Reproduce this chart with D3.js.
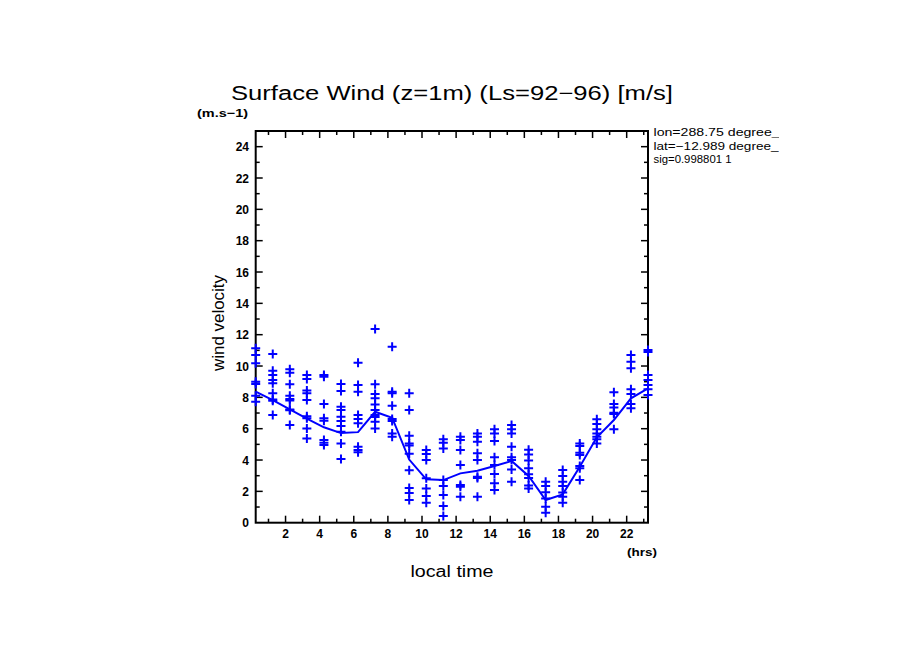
<!DOCTYPE html>
<html><head><meta charset="utf-8">
<script src="https://cdn.jsdelivr.net/npm/d3@7"></script>
<style>body{margin:0;background:#fff}svg{display:block}</style>
</head><body>
<script>
// ---- data ----
const hours = [0.25,1.25,2.25,3.25,4.25,5.25,6.25,7.25,8.25,9.25,10.25,11.25,12.25,13.25,14.25,15.25,16.25,17.25,18.25,19.25,20.25,21.25,22.25,23.25];
const meanWind = [8.36,7.83,7.24,6.64,6.09,5.72,5.78,7.08,6.70,4.03,2.77,2.72,3.15,3.32,3.62,3.94,2.98,1.45,1.81,3.57,5.45,6.55,7.94,8.58];
const samples = [
  [11.13,10.7,10.17,9.0,8.85,8.1,7.72],
  [10.77,9.7,9.43,9.1,8.9,8.26,7.87,7.79,6.87],
  [9.79,9.57,8.83,8.1,7.9,7.8,7.23,7.18,6.23],
  [9.43,9.17,8.43,8.26,7.83,6.8,6.66,6.02,5.38],
  [9.43,9.32,7.57,6.66,6.51,5.28,5.1,4.96],
  [8.85,8.4,7.4,7.19,6.77,6.49,6.17,5.81,5.06,4.06],
  [10.21,8.79,8.36,6.87,6.62,6.34,4.85,4.64,4.49],
  [12.36,8.83,8.21,7.94,7.55,7.19,6.87,6.75,6.45,6.02],
  [11.23,8.36,8.26,7.47,6.62,6.49,5.70,5.49],
  [8.26,7.19,5.55,5.06,4.93,4.4,3.34,2.21,1.9,1.45],
  [4.64,4.38,4.0,2.83,2.19,1.70,1.28],
  [5.32,5.11,4.74,2.72,2.34,1.77,1.06,0.43],
  [5.49,5.28,4.64,3.68,2.40,2.30,1.66],
  [5.70,5.49,5.17,4.43,4.0,2.94,2.85,1.66],
  [5.96,5.70,5.21,4.17,3.68,3.11,2.51,2.09],
  [6.23,5.96,5.70,4.85,4.17,4.0,3.40,2.62],
  [4.65,4.35,3.97,3.47,3.1,2.85,2.38,2.19],
  [2.62,2.34,1.94,1.55,1.02,0.64],
  [3.36,2.98,2.62,2.34,1.92,1.66,1.28],
  [5.06,4.89,4.47,4.32,3.62,3.47,2.72],
  [6.60,6.30,5.96,5.70,5.49,5.32,5.06],
  [8.32,7.57,7.36,7.02,6.94,5.96],
  [10.70,10.28,9.85,8.51,8.21,7.57,7.30],
  [11.02,10.9,9.43,9.1,8.79,8.51,8.15]
];
const xTickLabels = [2,4,6,8,10,12,14,16,18,20,22];
const yTickLabels = [0,2,4,6,8,10,12,14,16,18,20,22,24];
const titleText = "Surface Wind (z=1m) (Ls=92\u221296) [m/s]";
const infoLines = ["lon=288.75 degree_e","lat=\u221212.989 degree_","sig=0.998801 1"];
const infoWidths = [134,125,78];

// ---- layout ----
const W=904,H=654;
const L=255.7,R=648,T=131,B=522.7;
const blue="#0000ff";
const svg=d3.select("body").append("svg").attr("width",W).attr("height",H);
const x=d3.scaleLinear().domain([0.25,23.25]).range([L,R]);
const y=d3.scaleLinear().domain([0,25]).range([B,T]);
const font="'Liberation Sans', Arial, sans-serif";

// frame
svg.append("rect").attr("x",L).attr("y",T).attr("width",R-L).attr("height",B-T)
  .attr("fill","none").attr("stroke","#000").attr("stroke-width",2);

// ticks
const g=svg.append("g").attr("stroke","#000").attr("stroke-width",1.5);
d3.range(1,24).forEach(h=>{
  const len = h%2===0?7:4;
  g.append("line").attr("x1",x(h)).attr("x2",x(h)).attr("y1",B).attr("y2",B-len);
  g.append("line").attr("x1",x(h)).attr("x2",x(h)).attr("y1",T).attr("y2",T+len);
});
d3.range(1,25).forEach(v=>{
  const len = v%2===0?7:4;
  g.append("line").attr("x1",L).attr("x2",L+len).attr("y1",y(v)).attr("y2",y(v));
  g.append("line").attr("x1",R).attr("x2",R-len).attr("y1",y(v)).attr("y2",y(v));
});

// tick labels
svg.append("g").selectAll("text").data(xTickLabels).join("text")
  .attr("x",d=>x(d)).attr("y",538).attr("text-anchor","middle")
  .attr("font-family",font).attr("font-weight","bold").attr("font-size",12).text(d=>d);
svg.append("g").selectAll("text").data(yTickLabels).join("text")
  .attr("x",249).attr("y",d=>y(d)+4.5).attr("text-anchor","end")
  .attr("font-family",font).attr("font-weight","bold").attr("font-size",12).text(d=>d);

// labels
svg.append("text").attr("x",452).attr("y",100).attr("text-anchor","middle")
  .attr("font-family",font).attr("font-size",20).attr("textLength",442)
  .attr("lengthAdjust","spacingAndGlyphs").text(titleText);
svg.append("text").attr("x",197).attr("y",117).attr("font-family",font)
  .attr("font-weight","bold").attr("font-size",11).attr("textLength",51)
  .attr("lengthAdjust","spacingAndGlyphs").text("(m.s\u22121)");
svg.append("text").attr("x",627).attr("y",556).attr("font-family",font)
  .attr("font-weight","bold").attr("font-size",11).attr("textLength",30)
  .attr("lengthAdjust","spacingAndGlyphs").text("(hrs)");
svg.append("text").attr("x",452).attr("y",577).attr("text-anchor","middle")
  .attr("font-family",font).attr("font-size",16).attr("textLength",83)
  .attr("lengthAdjust","spacingAndGlyphs").text("local time");
svg.append("text").attr("transform","translate(224,323) rotate(-90)").attr("text-anchor","middle")
  .attr("font-family",font).attr("font-size",16).attr("textLength",96)
  .attr("lengthAdjust","spacingAndGlyphs").text("wind velocity");

// info text (clipped)
svg.append("clipPath").attr("id","clipInfo").append("rect").attr("x",650).attr("y",120).attr("width",129).attr("height",60);
svg.append("g").attr("clip-path","url(#clipInfo)").selectAll("text").data(infoLines).join("text")
  .attr("x",653.5).attr("y",(d,i)=>136+i*13.5).attr("font-family",font).attr("font-size",11.5)
  .attr("textLength",(d,i)=>infoWidths[i]).attr("lengthAdjust","spacingAndGlyphs").text(d=>d);

// scatter plus markers
const pts=[];
samples.forEach((arr,i)=>arr.forEach(v=>pts.push([hours[i],v])));
const s=4.5;
svg.append("g").selectAll("path").data(pts).join("path")
  .attr("d",d=>`M${x(d[0])-s},${y(d[1])}H${x(d[0])+s}M${x(d[0])},${y(d[1])-s}V${y(d[1])+s}`)
  .attr("stroke",blue).attr("stroke-width",2).attr("fill","none");

// mean line
svg.append("path").datum(hours.map((h,i)=>[h,meanWind[i]]))
  .attr("d",d3.line().x(d=>x(d[0])).y(d=>y(d[1])))
  .attr("fill","none").attr("stroke",blue).attr("stroke-width",2);
</script>
</body></html>
